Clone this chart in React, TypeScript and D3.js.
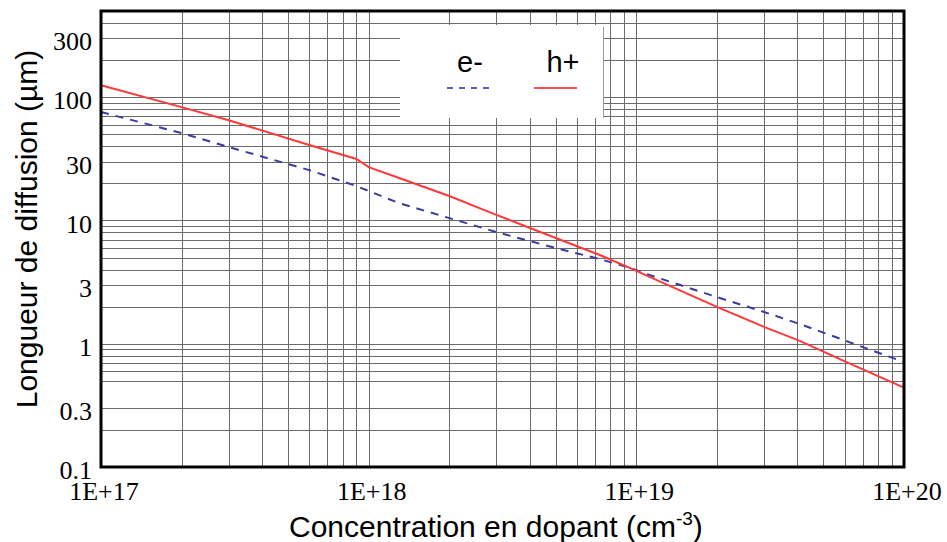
import React from "react";
import * as d3 from "d3";

// Data
const electronN = [1e17, 2e17, 3e17, 6e17, 9e17, 1.3e18, 3e18, 5e18, 7.3e18, 9.5e18, 1.12e19, 2e19, 3e19, 4.1e19, 6.1e19, 1e20];
const electronL = [75.7, 51.2, 39.4, 25.6, 19.0, 13.8, 8.05, 5.97, 4.86, 4.11, 3.61, 2.39, 1.81, 1.44, 1.05, 0.71];

const holeN = [1e17, 2e17, 3e17, 6e17, 9e17, 1e18, 1.3e18, 2e18, 3e18, 5e18, 7.3e18, 9.5e18, 1.12e19, 2e19, 3e19, 4.1e19, 6.1e19, 1e20];
const holeL = [125, 83, 65, 40.9, 31.5, 27.1, 22.1, 15.8, 11.1, 7.2, 5.24, 4.11, 3.48, 1.99, 1.37, 1.05, 0.71, 0.44];

const xTickValues = [1e17, 1e18, 1e19, 1e20];
const xTickLabels = ["1E+17", "1E+18", "1E+19", "1E+20"];
const yTickValues = [0.1, 0.3, 1, 3, 10, 30, 100, 300];
const yTickLabels = ["0.1", "0.3", "1", "3", "10", "30", "100", "300"];

// horizontal grid values as drawn in the reference (0.4 line absent)
const yGridValues = [
  0.2, 0.3, 0.5, 0.6, 0.7, 0.8, 0.9,
  1, 2, 3, 4, 5, 6, 7, 8, 9,
  10, 20, 30, 40, 50, 60, 70, 80, 90,
  100, 200, 300, 400,
];

const xDomain = [1e17, 1e20];
const yDomain = [0.1, 500];

const W = 947;
const H = 542;
const left = 101;
const right = 904;
const top = 11;
const bottom = 467;

export default function App() {
  const x = d3.scaleLog().domain(xDomain).range([left, right]);
  const y = d3.scaleLog().domain(yDomain).range([bottom, top]);

  const xGrid: number[] = [];
  for (let e = 17; e <= 19; e++) for (let k = 1; k <= 9; k++) xGrid.push(k * Math.pow(10, e));
  xGrid.push(1e20);

  const line = d3
    .line<[number, number]>()
    .x((d) => x(d[0]))
    .y((d) => y(d[1]));

  const ePts = electronN.map((n, i) => [n, electronL[i]] as [number, number]);
  const hPts = holeN.map((n, i) => [n, holeL[i]] as [number, number]);

  const sans = "'Liberation Sans', Arial, sans-serif";
  const serif = "'Liberation Serif', 'Times New Roman', serif";

  return (
    <svg width={W} height={H} style={{ position: "absolute", left: 0, top: 0, background: "#fff" }}>
      <rect x={0} y={0} width={W} height={H} fill="#fff" />
      {/* grid */}
      <g stroke="#6b6b6b" strokeWidth={1}>
        {xGrid.map((v, i) => (
          <line key={"xg" + i} x1={Math.round(x(v)) + 0.5} x2={Math.round(x(v)) + 0.5} y1={top} y2={bottom} />
        ))}
        {yGridValues.map((v, i) => (
          <line key={"yg" + i} x1={left} x2={right} y1={Math.round(y(v)) + 0.5} y2={Math.round(y(v)) + 0.5} />
        ))}
      </g>
      {/* legend box */}
      <rect x={400} y={25} width={203} height={93} fill="#fff" />
      <line x1={603.5} x2={603.5} y1={27} y2={118} stroke="#999" strokeWidth={1} />
      <text x={470} y={72} fontFamily={sans} fontSize={29} textAnchor="middle" fill="#000">e-</text>
      <text x={563} y={72} fontFamily={sans} fontSize={29} textAnchor="middle" fill="#000">h+</text>
      <line x1={447} x2={490} y1={88} y2={88} stroke="#5a5ac0" strokeWidth={2} strokeDasharray="6,6" />
      <line x1={534} x2={577} y1={88} y2={88} stroke="#ff4d4d" strokeWidth={2} />

      {/* curves */}
      <path d={line(ePts) || ""} fill="none" stroke="#3a3aa0" strokeWidth={2} strokeDasharray="8,7" />
      <path d={line(hPts) || ""} fill="none" stroke="#ff3838" strokeWidth={2} />

      {/* frame */}
      <rect x={left} y={top} width={right - left} height={bottom - top} fill="none" stroke="#000" strokeWidth={3} />

      {/* ticks */}
      {yTickValues.map((v, i) => (
        <text key={"yt" + i} x={92} y={y(v) + 3} dy="0.35em" textAnchor="end" fontFamily={serif} fontSize={26} fill="#000">
          {yTickLabels[i]}
        </text>
      ))}
      {xTickValues.map((v, i) => (
        <text key={"xt" + i} x={x(v) + 3} y={500} textAnchor="middle" fontFamily={serif} fontSize={26} fill="#000">
          {xTickLabels[i]}
        </text>
      ))}

      {/* axis titles */}
      <text x={289} y={537} fontFamily={sans} fontSize={30} fill="#000">
        Concentration en dopant (cm<tspan dy={-12} fontSize={19}>-3</tspan><tspan dy={12}>)</tspan>
      </text>
      <text
        transform={`translate(37, 229) rotate(-90)`}
        textAnchor="middle"
        fontFamily={sans}
        fontSize={30}
        fill="#000"
      >
        Longueur de diffusion (µm)
      </text>
    </svg>
  );
}
